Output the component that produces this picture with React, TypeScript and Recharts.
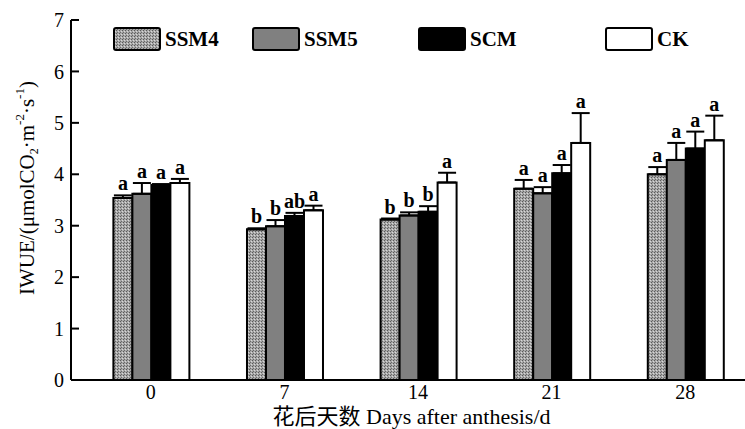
import { BarChart, Bar, XAxis, YAxis, ErrorBar, LabelList } from 'recharts'

const days = ['0', '7', '14', '21', '28']
const seriesNames = ['SSM4', 'SSM5', 'SCM', 'CK']

// mean IWUE per treatment, one value per day
const ssm4 = [3.54, 2.93, 3.12, 3.72, 4.0]
const ssm5 = [3.62, 2.99, 3.2, 3.63, 4.28]
const scm = [3.79, 3.19, 3.27, 4.02, 4.5]
const ck = [3.83, 3.3, 3.84, 4.61, 4.66]

// upper error (SE)
const ssm4Err = [0.05, 0.02, 0.02, 0.17, 0.14]
const ssm5Err = [0.21, 0.12, 0.06, 0.12, 0.33]
const scmErr = [0.02, 0.06, 0.11, 0.16, 0.33]
const ckErr = [0.08, 0.09, 0.19, 0.58, 0.48]

// significance letters
const ssm4Sig = ['a', 'b', 'b', 'a', 'a']
const ssm5Sig = ['a', 'b', 'b', 'a', 'a']
const scmSig = ['a', 'ab', 'b', 'a', 'a']
const ckSig = ['a', 'a', 'a', 'a', 'a']

const yTicks = [0, 1, 2, 3, 4, 5, 6, 7]

const values = [ssm4, ssm5, scm, ck]
const errors = [ssm4Err, ssm5Err, scmErr, ckErr]
const letters = [ssm4Sig, ssm5Sig, scmSig, ckSig]

const FILLS = ['url(#ssm4Pattern)', '#808080', '#000000', '#ffffff']
const FONT = '"Liberation Serif", "Times New Roman", "Noto Sans CJK SC", serif'
const LEGEND_LEFT = [113, 252, 418, 605]

const data = days.map((day, i) => {
  const row: Record<string, any> = { day }
  seriesNames.forEach((name, s) => {
    row[name] = values[s][i]
    row[name + '_err'] = [0, errors[s][i]]
  })
  return row
})

function sigLabel(s: number) {
  return (props: any) => {
    const vb = props.viewBox || {}
    const x = props.x ?? vb.x
    const y = props.y ?? vb.y
    const width = props.width ?? vb.width
    const height = props.height ?? vb.height
    const i = props.index
    const v = values[s][i]
    const errPx = (errors[s][i] * height) / v
    return (
      <text
        x={x + width / 2}
        y={y - errPx - 5}
        textAnchor="middle"
        fontFamily={FONT}
        fontSize={20}
        fontWeight="bold"
        fill="#000"
      >
        {letters[s][i]}
      </text>
    )
  }
}

function YLabel(props: any) {
  const vb = props.viewBox
  const cx = vb.x + 27
  const cy = vb.y + vb.height / 2 - 12
  return (
    <text
      x={cx}
      y={cy}
      transform={`rotate(-90, ${cx}, ${cy})`}
      textAnchor="middle"
      dominantBaseline="central"
      fontFamily={FONT}
      fontSize={21}
      fill="#000"
    >
      IWUE/(μmolCO
      <tspan baselineShift="sub" fontSize={12}>2</tspan>
      ·m
      <tspan baselineShift="super" fontSize={13}>-2</tspan>
      ·s
      <tspan baselineShift="super" fontSize={13}>-1</tspan>)
    </text>
  )
}

function XLabel(props: any) {
  const vb = props.viewBox
  return (
    <text
      x={vb.x + vb.width / 2}
      y={vb.y + vb.height - 5}
      textAnchor="middle"
      fontFamily={FONT}
      fontSize={22}
      fill="#000"
    >
      花后天数 Days after anthesis/d
    </text>
  )
}

function Swatch({ fill }: { fill: string }) {
  return (
    <svg width={48} height={24} style={{ display: 'block' }}>
      <rect x={1} y={1} width={46} height={22} rx={2} fill={fill} stroke="#000" strokeWidth={2} />
    </svg>
  )
}

export default function App() {
  return (
    <div
      style={{
        position: 'absolute',
        left: 0,
        top: 0,
        width: 745,
        height: 429,
        overflow: 'hidden',
        background: '#fff',
      }}
    >
      <svg width={0} height={0} style={{ position: 'absolute' }}>
        <defs>
          <pattern id="ssm4Pattern" width={3} height={3} patternUnits="userSpaceOnUse">
            <rect width={3} height={3} fill="#a8a8a8" />
            <rect x={0} y={0} width={1} height={1} fill="#5a5a5a" />
            <rect x={2} y={1} width={1} height={1} fill="#d8d8d8" />
            <rect x={1} y={2} width={1} height={1} fill="#6a6a6a" />
          </pattern>
        </defs>
      </svg>

      <BarChart
        width={752}
        height={429}
        data={data}
        margin={{ top: 20, right: 0, bottom: 0, left: 0 }}
        barGap={0}
        barCategoryGap="22%"
      >
        <XAxis
          dataKey="day"
          height={49}
          padding={{ left: 13, right: 0 }}
          axisLine={{ stroke: '#000', strokeWidth: 2 }}
          tickLine={false}
          tickSize={0}
          tickMargin={5}
          tick={{ fontFamily: FONT, fontSize: 20, fill: '#000' }}
          label={{ content: XLabel }}
        />
        <YAxis
          width={71}
          domain={[0, 7]}
          ticks={yTicks}
          interval={0}
          axisLine={{ stroke: '#000', strokeWidth: 2 }}
          tickLine={{ stroke: '#000', strokeWidth: 2 }}
          tickSize={-8}
          tickMargin={15}
          tick={{ fontFamily: FONT, fontSize: 20, fill: '#000' }}
          label={{ content: YLabel }}
        />
        {seriesNames.map((name, s) => (
          <Bar
            key={name}
            dataKey={name}
            fill={FILLS[s]}
            stroke="#000"
            strokeWidth={2}
            isAnimationActive={false}
          >
            <ErrorBar
              dataKey={name + '_err'}
              direction="y"
              width={9}
              stroke="#000"
              strokeWidth={2}
              isAnimationActive={false}
            />
            <LabelList dataKey={name} content={sigLabel(s)} />
          </Bar>
        ))}
      </BarChart>

      {seriesNames.map((name, s) => (
        <div
          key={name}
          style={{
            position: 'absolute',
            left: LEGEND_LEFT[s],
            top: 27,
            display: 'flex',
            alignItems: 'center',
            fontFamily: FONT,
            fontSize: 21,
            fontWeight: 'bold',
            lineHeight: '24px',
            color: '#000',
          }}
        >
          <Swatch fill={FILLS[s]} />
          <span style={{ marginLeft: 4 }}>{name}</span>
        </div>
      ))}
    </div>
  )
}
